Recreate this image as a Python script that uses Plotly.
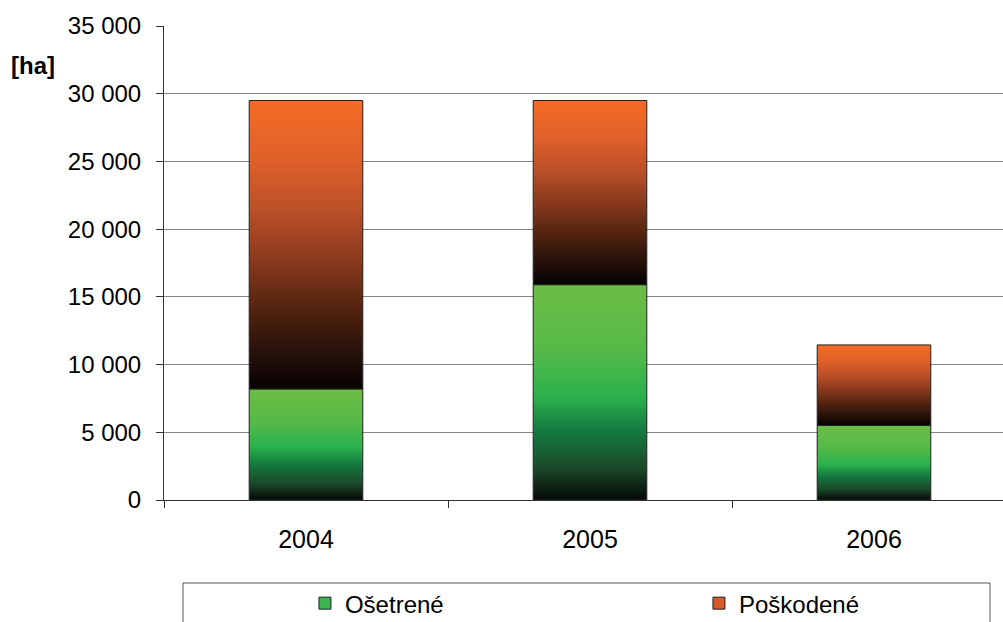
import plotly.graph_objects as go

# Data: treated and damaged area per year [ha]
years = ["2004", "2005", "2006"]
osetrene = [8200, 15900, 5500]
poskodene = [21300, 13600, 5950]
y_ticks = [0, 5000, 10000, 15000, 20000, 25000, 30000, 35000]
y_ticktext = ["0", "5 000", "10 000", "15 000", "20 000", "25 000", "30 000", "35 000"]

BAR_HALF = 0.2
FONT = "Liberation Sans, Arial, sans-serif"

green_scale = [[0.0, "#050805"], [0.15, "#1b4a2a"], [0.32, "#147a3f"],
               [0.48, "#2bb24e"], [0.72, "#58ba47"], [1.0, "#6cbd45"]]
orange_scale = [[0.0, "#050202"], [0.15, "#2e140b"], [0.3, "#5a2610"],
                [0.45, "#8a3a1e"], [0.62, "#bb5028"], [0.8, "#e0612a"], [1.0, "#f46c24"]]

fig = go.Figure()


def add_segment(i, base, value, scale):
    x0, x1 = i - BAR_HALF, i + BAR_HALF
    top = base + value
    fig.add_trace(go.Scatter(
        x=[x0, x1, x1, x0, x0], y=[base, base, top, top, base],
        mode="lines", fill="toself",
        fillgradient=dict(type="vertical", colorscale=scale),
        line=dict(color="#222222", width=1),
        showlegend=False, hoverinfo="skip",
    ))


for i in range(len(years)):
    add_segment(i, 0, osetrene[i], green_scale)
    add_segment(i, osetrene[i], poskodene[i], orange_scale)

# legend entries, one legend box each
fig.add_trace(go.Bar(x=[None], y=[None], name="Ošetrené", legend="legend",
                     marker=dict(color="#3cb44c", line=dict(color="#222", width=1))))
fig.add_trace(go.Bar(x=[None], y=[None], name="Poškodené", legend="legend2",
                     marker=dict(color="#d65a28", line=dict(color="#222", width=1))))

legend_common = dict(orientation="h", yanchor="top", y=-0.171, xanchor="left",
                     font=dict(size=24), bgcolor="rgba(0,0,0,0)", borderwidth=0)

fig.update_layout(
    width=1003, height=622,
    margin=dict(l=164, r=0, t=26, b=122, autoexpand=False),
    paper_bgcolor="white", plot_bgcolor="white",
    font=dict(family=FONT, size=24, color="black"),
    xaxis=dict(
        range=[-0.5, 2.5 - 13 / 284], automargin=False,
        tickmode="array", tickvals=[0, 1, 2], ticktext=years,
        tickfont=dict(size=25),
        ticks="", ticklen=0, ticklabelstandoff=17,
        showgrid=False, zeroline=False,
        showline=True, linecolor="#333333", linewidth=1,
        minor=dict(tickmode="array", tickvals=[-0.5, 0.5, 1.5, 2.5],
                   ticks="outside", ticklen=7, tickcolor="#333333", showgrid=False),
    ),
    yaxis=dict(
        range=[0, 35000], automargin=False,
        tickmode="array", tickvals=y_ticks, ticktext=y_ticktext,
        ticks="outside", ticklen=7, tickcolor="#333333",
        ticklabelstandoff=10,
        showgrid=True, gridcolor="#858585", gridwidth=1,
        zeroline=False,
        showline=True, linecolor="#333333", linewidth=1,
    ),
    showlegend=True,
    legend=dict(x=0.168, **legend_common),
    legend2=dict(x=0.6376, **legend_common),
    shapes=[dict(type="rect", xref="paper", yref="paper",
                 x0=(183 - 164) / 839, x1=(990 - 164) / 839,
                 y0=-0.3, y1=(500 - 583) / 474,
                 line=dict(color="#555555", width=1), fillcolor="rgba(0,0,0,0)")],
    annotations=[dict(text="<b>[ha]</b>", xref="paper", yref="paper",
                      x=(33 - 164) / 839, y=(500 - 66) / 474,
                      xanchor="center", yanchor="middle", showarrow=False,
                      font=dict(size=24, family=FONT))],
    barmode="overlay",
)

fig.write_html("out.html")
